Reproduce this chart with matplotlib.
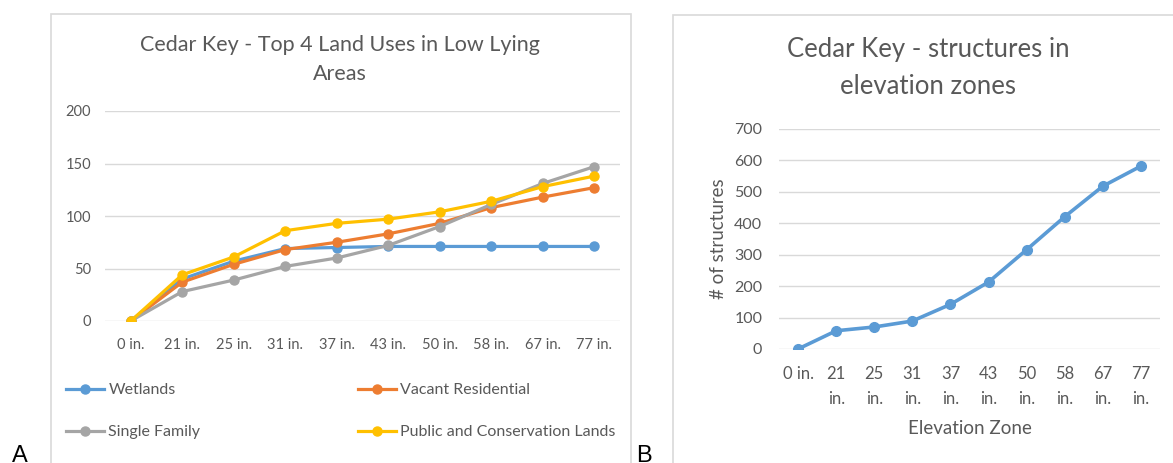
import matplotlib.pyplot as plt
from matplotlib.patches import Rectangle
from matplotlib.lines import Line2D

plt.rcParams['font.family'] = ['Lato', 'DejaVu Sans']

# Land use acreage by elevation zone
zones = ["0 in.", "21 in.", "25 in.", "31 in.", "37 in.", "43 in.", "50 in.", "58 in.", "67 in.", "77 in."]
wetlands = [0, 40, 57, 69, 70, 71, 71, 71, 71, 71]
vacant_residential = [0, 37, 54, 68, 75, 83, 93, 108, 118, 127]
single_family = [0, 28, 39, 52, 60, 72, 90, 111, 131, 147]
public_conservation = [0, 44, 61, 86, 93, 97, 104, 114, 128, 138]

# Structure counts by elevation zone
zone_labels_b = ["0 in.", "21\nin.", "25\nin.", "31\nin.", "37\nin.", "43\nin.", "50\nin.", "58\nin.", "67\nin.", "77\nin."]
structures = [0, 58, 70, 89, 142, 213, 316, 421, 518, 582]

BLUE = "#5B9BD5"
ORANGE = "#ED7D31"
GRAY = "#A5A5A5"
YELLOW = "#FFC000"
TEXT = "#595959"
GRID = "#D9D9D9"

W, H = 1173, 463
fig = plt.figure(figsize=(W / 100, H / 100), dpi=100)


def px_box(x0, y0, x1, y1):
    # pixel box (top-left origin) -> figure fraction [left, bottom, width, height]
    return [x0 / W, (H - y1) / H, (x1 - x0) / W, (y1 - y0) / H]


def style_axes(ax):
    ax.patch.set_visible(False)
    for s in ax.spines.values():
        s.set_visible(False)
    ax.grid(axis="y", color=GRID, linewidth=1)
    ax.set_axisbelow(True)
    ax.tick_params(length=0, colors=TEXT)


# chart frames
for x0, y0, x1, y1 in [(51, 14, 631, 470), (673, 15, 1180, 470)]:
    fig.patches.append(Rectangle((x0 / W, (H - y1) / H), (x1 - x0) / W, (y1 - y0) / H,
                                 transform=fig.transFigure, facecolor="none",
                                 edgecolor=GRID, linewidth=1.2, zorder=-1))

# --- A: land uses ---
ax1 = fig.add_axes(px_box(105, 111, 620, 321))
style_axes(ax1)
x = range(len(zones))
series = [(wetlands, BLUE, "Wetlands"),
          (vacant_residential, ORANGE, "Vacant Residential"),
          (single_family, GRAY, "Single Family"),
          (public_conservation, YELLOW, "Public and Conservation Lands")]
for vals, col, name in series:
    ax1.plot(x, vals, color=col, linewidth=2.3, marker="o", markersize=6.5, label=name)
ax1.set_xlim(-0.5, len(zones) - 0.5)
ax1.set_ylim(0, 200)
ax1.set_yticks([0, 50, 100, 150, 200])
ax1.set_xticks(list(x))
ax1.set_xticklabels(zones)
ax1.tick_params(axis="x", labelsize=10.5, pad=12)
ax1.tick_params(axis="y", labelsize=10.5, pad=10)
fig.text(340 / W, 1 - 45 / H, "Cedar Key - Top 4 Land Uses in Low Lying", ha="center", va="center",
         fontsize=15.5, color=TEXT)
fig.text(340 / W, 1 - 74 / H, "Areas", ha="center", va="center", fontsize=15.5, color=TEXT)

handles = {name: Line2D([], [], color=col, linewidth=2.3, marker="o", markersize=6.5)
           for _, col, name in series}
leg_kw = dict(frameon=False, fontsize=11.5, labelcolor=TEXT, handlelength=2.4,
              handletextpad=0.25, labelspacing=1.75, borderpad=0, loc="upper left",
              bbox_transform=fig.transFigure)
leg1 = fig.legend([handles["Wetlands"], handles["Single Family"]], ["Wetlands", "Single Family"],
                  bbox_to_anchor=(58 / W, 1 - 375 / H), **leg_kw)
leg2 = fig.legend([handles["Vacant Residential"], handles["Public and Conservation Lands"]],
                  ["Vacant Residential", "Public and Conservation Lands"],
                  bbox_to_anchor=(350 / W, 1 - 375 / H), **leg_kw)

# --- B: structures ---
ax2 = fig.add_axes(px_box(779, 129, 1160, 349))
style_axes(ax2)
xb = range(len(zone_labels_b))
ax2.plot(xb, structures, color=BLUE, linewidth=2.6, marker="o", markersize=7)
ax2.set_xlim(-0.5, len(zone_labels_b) - 0.5)
ax2.set_ylim(0, 700)
ax2.set_yticks(range(0, 701, 100))
ax2.set_xticks(list(xb))
ax2.set_xticklabels(zone_labels_b, va="top", linespacing=1.75)
ax2.tick_params(axis="x", labelsize=12, pad=12)
ax2.tick_params(axis="y", labelsize=11.5, pad=12)
ax2.set_xlabel("Elevation Zone", fontsize=13.5, color=TEXT, labelpad=9)
ax2.set_ylabel("# of structures", fontsize=13.5, color=TEXT, labelpad=5)
fig.text(928 / W, 1 - 50 / H, "Cedar Key - structures in", ha="center", va="center",
         fontsize=18.5, color=TEXT)
fig.text(928 / W, 1 - 86 / H, "elevation zones", ha="center", va="center", fontsize=18.5, color=TEXT)

# panel letters
fig.text(12 / W, 1 - 456 / H, "A", fontsize=17, family="Liberation Sans", va="center", color="black")
fig.text(636 / W, 1 - 456 / H, "B", fontsize=17, family="Liberation Sans", va="center", color="black")

fig.savefig("out.png", dpi=100)
